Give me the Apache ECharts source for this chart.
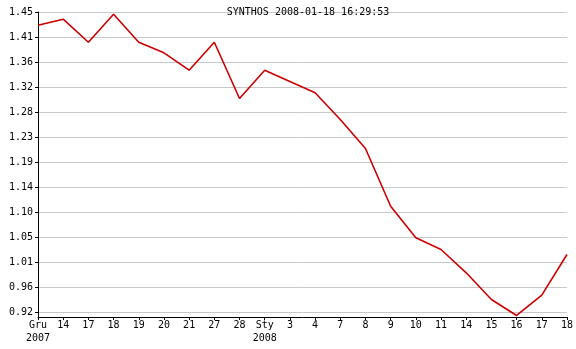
<!DOCTYPE html>
<html>
<head>
<meta charset="utf-8">
<script src="https://cdn.jsdelivr.net/npm/echarts@6/dist/echarts.min.js"></script>
<style>
html,body{margin:0;padding:0;background:#fff;}
#chart{width:576px;height:349px;}
</style>
</head>
<body>
<div id="chart"></div>
<script>
const titleText = 'SYNTHOS 2008-01-18 16:29:53';
const categories = ['Gru\n2007','14','17','18','19','20','21','27','28','Sty\n2008','3','4','7','8','9','10','11','14','15','16','17','18'];
const prices = [1.4306,1.4413,1.4001,1.4502,1.4001,1.3812,1.3501,1.4001,1.2995,1.3501,1.3300,1.3097,1.2619,1.2101,1.1069,1.0504,1.0295,0.9878,0.9401,0.9115,0.9478,1.0206];
const yTickValues = [0.91775,0.96245,1.00715,1.05185,1.09655,1.14125,1.18595,1.23065,1.27535,1.32005,1.36475,1.40945,1.45415];
const yTickLabels = ['0.92','0.96','1.01','1.05','1.10','1.14','1.19','1.23','1.28','1.32','1.36','1.41','1.45'];
const yMin = 0.9088, yMax = 1.4542;

const font = 'DejaVu Sans Mono';
const chart = echarts.init(document.getElementById('chart'), null, {renderer:'canvas'});
chart.setOption({
  animation:false,
  backgroundColor:'#ffffff',
  title:{text:titleText,left:303,textAlign:'center',top:2,
    textStyle:{fontFamily:font,fontSize:10,fontWeight:'normal',color:'#000'}},
  grid:{left:38,right:8,top:12,height:305,containLabel:false},
  xAxis:{type:'category',data:categories,boundaryGap:false,
    axisLine:{lineStyle:{color:'#000',width:1}},
    axisTick:{show:true,length:3,interval:0,lineStyle:{color:'#000'}},
    axisLabel:{interval:0,margin:2,fontFamily:font,fontSize:10,color:'#000',lineHeight:13},
    splitLine:{show:false}},
  yAxis:{type:'value',min:yMin,max:yMax,
    axisLine:{show:true,lineStyle:{color:'#000',width:1}},
    axisTick:{show:true,length:3,customValues:yTickValues,lineStyle:{color:'#000'}},
    axisLabel:{margin:5,customValues:yTickValues,fontFamily:font,fontSize:10,color:'#000',
      formatter:function(v){const i=yTickValues.indexOf(v);return i>=0?yTickLabels[i]:v.toFixed(2);}},
    splitLine:{show:true,lineStyle:{color:'#c8c8c8',width:1}}},
  series:[{type:'line',data:prices,symbol:'none',
    lineStyle:{color:'#cc0000',width:1.6}}]
});
</script>
</body>
</html>
